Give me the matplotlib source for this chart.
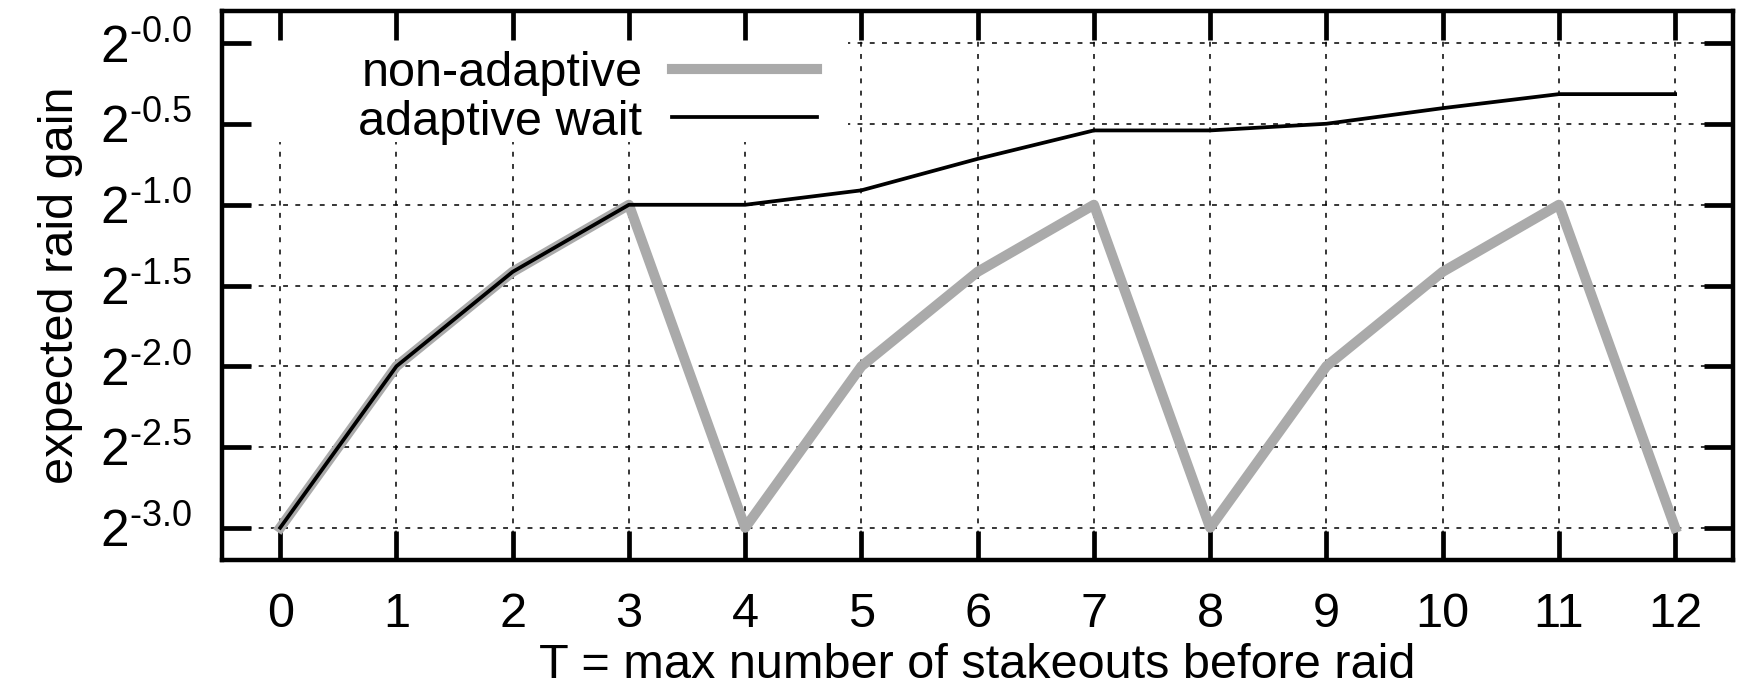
import matplotlib
matplotlib.use("Agg")
import matplotlib.pyplot as plt
from matplotlib.patches import Rectangle

# T = max number of stakeouts before raid
stakeouts = [0, 1, 2, 3, 4, 5, 6, 7, 8, 9, 10, 11, 12]
non_adaptive = [0.125, 0.25, 0.375, 0.5, 0.125, 0.25, 0.375, 0.5, 0.125, 0.25, 0.375, 0.5, 0.125]
adaptive_wait = [0.125, 0.25, 0.375, 0.5, 0.5, 0.532, 0.609, 0.688, 0.688, 0.708, 0.757, 0.804, 0.804]
y_exponents = [0.0, 0.5, 1.0, 1.5, 2.0, 2.5, 3.0]

plt.rcParams["font.family"] = ["Liberation Sans", "DejaVu Sans"]
plt.rcParams["mathtext.fontset"] = "custom"
plt.rcParams["mathtext.rm"] = "Liberation Sans"
plt.rcParams["mathtext.default"] = "regular"

fig = plt.figure(figsize=(17.39, 6.88), dpi=100)
ax = fig.add_axes([0.1277, 0.186, 0.869, 0.798])

fs = 35
ax.plot(stakeouts, non_adaptive, color="#aaaaaa", lw=7.3, label="non-adaptive", zorder=3)
ax.plot(stakeouts, adaptive_wait, color="black", lw=2.7, label="adaptive wait", zorder=4)

ax.set_yscale("log", base=2)
ax.set_xlim(-0.5, 12.5)
ax.set_ylim(2 ** -3.2, 2 ** 0.2)
ax.set_xticks(stakeouts)
ax.set_xticklabels([str(s) for s in stakeouts], fontsize=fs)
ax.set_yticks([2 ** -e for e in y_exponents])
# hyphen (not minus) in the exponent, like the original
ax.set_yticklabels(["$2^{\u2010%.1f}$" % e for e in y_exponents], fontsize=fs + 2)
ax.minorticks_off()

# gnuplot-like grid, kept under the key box while the ticks stay on top
grid_style = dict(color="black", linewidth=1.1, linestyle=(0, (3.2, 4.8)), zorder=0.6)
for x in stakeouts:
    ax.axvline(x, **grid_style)
for e in y_exponents:
    ax.axhline(2 ** -e, **grid_style)
ax.add_patch(Rectangle((0, 0.762), 0.414, 0.238, transform=ax.transAxes,
                       facecolor="white", edgecolor="none", zorder=1))

ax.tick_params(which="major", direction="in", length=21, width=3.4, color="black",
               top=True, right=True)
ax.tick_params(axis="x", pad=23)
ax.tick_params(axis="y", pad=22)
for sp in ax.spines.values():
    sp.set_linewidth(3.2)

ax.set_xlabel("T = max number of stakeouts before raid", fontsize=fs, labelpad=4)
ax.set_ylabel("expected raid gain", fontsize=fs, labelpad=12)

leg = ax.legend(loc="upper right", bbox_to_anchor=(0.402, 0.95), frameon=False, fontsize=fs,
                markerfirst=False, handlelength=3.0, handletextpad=0.6, labelspacing=0.08,
                borderaxespad=0.0, borderpad=0.25)
for t in leg.get_texts():
    t.set_ha("right")
leg.set_zorder(5)

fig.savefig("out.png", dpi=100)
